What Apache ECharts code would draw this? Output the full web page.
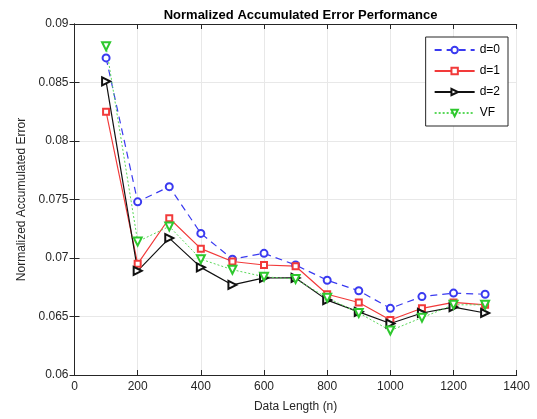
<!DOCTYPE html>
<html>
<head>
<meta charset="utf-8">
<script src="https://cdn.jsdelivr.net/npm/echarts@6/dist/echarts.min.js"></script>
<style>
html,body{margin:0;padding:0;background:#fff;}
#chart{width:537px;height:419px;}
</style>
</head>
<body>
<div id="chart"></div>
<script>
var dataLength = [100, 200, 300, 400, 500, 600, 700, 800, 900, 1000, 1100, 1200, 1300];
var d0 = [0.0871, 0.0748, 0.0761, 0.0721, 0.0699, 0.0704, 0.0694, 0.0681, 0.0672, 0.0657, 0.0667, 0.0670, 0.0669];
var d1 = [0.0825, 0.0695, 0.0734, 0.0708, 0.0697, 0.0694, 0.0693, 0.0669, 0.0662, 0.0647, 0.0657, 0.0662, 0.0660];
var d2 = [0.0851, 0.0689, 0.0717, 0.0692, 0.0677, 0.0683, 0.0683, 0.0664, 0.0654, 0.0644, 0.0653, 0.0658, 0.0653];
var vf = [0.0881, 0.0714, 0.0727, 0.0699, 0.0690, 0.0684, 0.0682, 0.0666, 0.0653, 0.0638, 0.0649, 0.0660, 0.0660];
var seriesNames = ['d=0', 'd=1', 'd=2', 'VF'];
var titleText = 'Normalized Accumulated Error Performance';
var xName = 'Data Length (n)';
var yName = 'Normalized Accumulated Error';

function pairs(ys) { return dataLength.map(function (x, i) { return [x, ys[i]]; }); }

var axisColor = '#262626';
var font = 'Liberation Sans, Arial, sans-serif';

var chart = echarts.init(document.getElementById('chart'), null, {renderer: 'canvas'});
chart.setOption({
  animation: false,
  backgroundColor: '#fff',
  title: {
    text: titleText,
    left: 295.6, textAlign: 'center', top: 4,
    textStyle: {fontFamily: font, fontSize: 13, fontWeight: 'bold', color: '#000'}
  },
  grid: {left: 74.5, right: 20.3, top: 24, bottom: 44, containLabel: false},
  legend: {
    orient: 'vertical', right: 29, top: 37,
    borderColor: axisColor, borderWidth: 1, backgroundColor: '#fff',
    padding: [7, 8, 7, 8], itemWidth: 40, itemHeight: 8, itemGap: 9,
    textStyle: {fontFamily: font, fontSize: 12, color: '#000'},
    data: seriesNames
  },
  xAxis: [{
    type: 'value', min: 0, max: 1400, interval: 200,
    name: xName, nameLocation: 'middle', nameGap: 26,
    nameTextStyle: {fontFamily: font, fontSize: 12, color: axisColor},
    axisLine: {show: true, lineStyle: {color: axisColor, width: 1}},
    axisTick: {show: true, inside: true, length: 5, lineStyle: {color: axisColor}},
    axisLabel: {fontFamily: font, fontSize: 12, color: axisColor, margin: 6,
      formatter: function (v) { return String(v); }},
    splitLine: {show: true, lineStyle: {color: '#e8e8e8', width: 1}}
  }, {
    type: 'value', min: 0, max: 1400, interval: 200, position: 'top',
    axisLine: {show: true, lineStyle: {color: axisColor, width: 1}},
    axisTick: {show: true, inside: true, length: 5, lineStyle: {color: axisColor}},
    axisLabel: {show: false}, splitLine: {show: false}
  }],
  yAxis: [{
    type: 'value', min: 0.06, max: 0.09, interval: 0.005,
    name: yName, nameLocation: 'middle', nameGap: 44,
    nameTextStyle: {fontFamily: font, fontSize: 12, color: axisColor},
    axisLine: {show: true, lineStyle: {color: axisColor, width: 1}},
    axisTick: {show: true, inside: true, length: 5, lineStyle: {color: axisColor}},
    axisLabel: {fontFamily: font, fontSize: 12, color: axisColor, margin: 6,
      formatter: function (v) { return String(+v.toFixed(3)); }},
    splitLine: {show: true, lineStyle: {color: '#e8e8e8', width: 1}}
  }, {
    type: 'value', min: 0.06, max: 0.09, interval: 0.005, position: 'right',
    axisLine: {show: true, lineStyle: {color: axisColor, width: 1}},
    axisTick: {show: true, inside: true, length: 5, lineStyle: {color: axisColor}},
    axisLabel: {show: false}, splitLine: {show: false}
  }],
  series: [{
    name: seriesNames[0], type: 'line', data: pairs(d0),
    symbol: 'emptyCircle', symbolSize: 7,
    lineStyle: {color: '#3a3af0', width: 1.2, type: [7, 5]},
    itemStyle: {color: '#3a3af0', borderWidth: 1.1}
  }, {
    name: seriesNames[1], type: 'line', data: pairs(d1),
    symbol: 'emptyRect', symbolSize: 6,
    lineStyle: {color: '#f23a3a', width: 1.2},
    itemStyle: {color: '#f23a3a', borderWidth: 1.1}
  }, {
    name: seriesNames[2], type: 'line', data: pairs(d2),
    symbol: 'emptyTriangle', symbolSize: 8, symbolRotate: -90,
    lineStyle: {color: '#111', width: 1.2},
    itemStyle: {color: '#111', borderWidth: 1.1}
  }, {
    name: seriesNames[3], type: 'line', data: pairs(vf),
    symbol: 'emptyTriangle', symbolSize: 8, symbolRotate: 180,
    lineStyle: {color: '#5ad85a', width: 1, type: [2, 2]},
    itemStyle: {color: '#2ec82e', borderWidth: 1.1}
  }]
});
</script>
</body>
</html>
